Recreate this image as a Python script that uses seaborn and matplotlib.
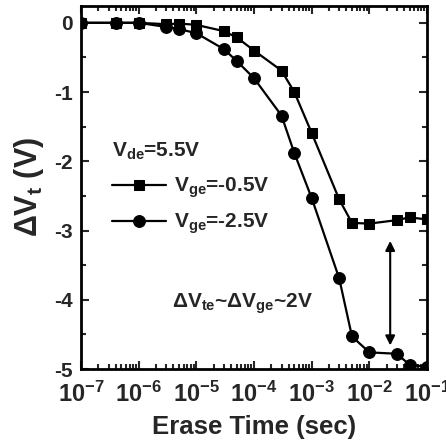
import numpy as np
import pandas as pd
import seaborn as sns
import matplotlib
matplotlib.use("Agg")
import matplotlib.pyplot as plt
from matplotlib.ticker import FixedLocator, FixedFormatter, LogLocator, MultipleLocator, NullFormatter

# ---- data ----
t_sq = [1e-7, 4e-7, 1e-6, 3e-6, 5e-6, 1e-5, 3e-5, 5e-5, 1e-4, 3e-4, 5e-4,
        1e-3, 3e-3, 5e-3, 1e-2, 3e-2, 5e-2, 1e-1]
dv_sq = [0.0, 0.0, 0.0, -0.02, -0.01, -0.03, -0.12, -0.21, -0.40, -0.69, -1.00,
         -1.59, -2.55, -2.89, -2.90, -2.85, -2.81, -2.84]
t_ci = [1e-7, 4e-7, 1e-6, 3e-6, 5e-6, 1e-5, 3e-5, 5e-5, 1e-4, 3e-4, 5e-4,
        1e-3, 3e-3, 5e-3, 1e-2, 3e-2, 5e-2, 1e-1]
dv_ci = [0.0, 0.0, 0.0, -0.06, -0.09, -0.15, -0.38, -0.55, -0.80, -1.34, -1.88,
         -2.53, -3.69, -4.53, -4.76, -4.78, -4.94, -4.97]
label_sq = r'$\mathregular{V_{ge}}$=-0.5V'
label_ci = r'$\mathregular{V_{ge}}$=-2.5V'
legend_title = r'$\mathregular{V_{de}}$=5.5V'
annot_text = r'$\Delta\mathregular{V_{te}}$~$\Delta\mathregular{V_{ge}}$~2V'
x_ticks = [1e-7, 1e-6, 1e-5, 1e-4, 1e-3, 1e-2, 1e-1]
x_ticklabels = [r'$\mathregular{10^{-7}}$', r'$\mathregular{10^{-6}}$', r'$\mathregular{10^{-5}}$',
                r'$\mathregular{10^{-4}}$', r'$\mathregular{10^{-3}}$', r'$\mathregular{10^{-2}}$',
                r'$\mathregular{10^{-1}}$']
y_ticks = [0, -1, -2, -3, -4, -5]
y_ticklabels = ['0', '-1', '-2', '-3', '-4', '-5']
arrow_x = 2.3e-2
arrow_y = [-3.15, -4.66]

df = pd.concat([
    pd.DataFrame({'t': t_sq, 'dv': dv_sq, 's': label_sq}),
    pd.DataFrame({'t': t_ci, 'dv': dv_ci, 's': label_ci}),
])

sns.set_theme(style='ticks')
plt.rcParams['font.family'] = ['Liberation Sans', 'DejaVu Sans']
plt.rcParams['font.weight'] = 'bold'
plt.rcParams['mathtext.fontset'] = 'custom'
plt.rcParams['mathtext.rm'] = 'Liberation Sans:bold'
plt.rcParams['mathtext.bf'] = 'Liberation Sans:bold'
plt.rcParams['mathtext.it'] = 'Liberation Sans:bold'
plt.rcParams['mathtext.sf'] = 'Liberation Sans:bold'
plt.rcParams['axes.unicode_minus'] = False

fig = plt.figure(figsize=(4.46, 4.46), dpi=100)
ax = fig.add_axes([81/446, 1-369/446, 346/446, 363.5/446])

sns.lineplot(data=df[df.s == label_sq], x='t', y='dv', ax=ax, color='black',
             marker='s', markersize=7.5, markeredgecolor='black', linewidth=1.6,
             label=label_sq, clip_on=True)
sns.lineplot(data=df[df.s == label_ci], x='t', y='dv', ax=ax, color='black',
             marker='o', markersize=8.5, markeredgecolor='black', linewidth=1.6,
             label=label_ci, clip_on=True)

ax.set_xscale('log')
ax.set_xlim(1e-7, 1e-1)
ax.set_ylim(-5, 0.25)

ax.xaxis.set_major_locator(FixedLocator(x_ticks))
ax.xaxis.set_major_formatter(FixedFormatter(x_ticklabels))
ax.xaxis.set_minor_locator(LogLocator(base=10, subs=np.arange(2, 10), numticks=20))
ax.xaxis.set_minor_formatter(NullFormatter())
ax.yaxis.set_major_locator(FixedLocator(y_ticks))
ax.yaxis.set_major_formatter(FixedFormatter(y_ticklabels))
ax.yaxis.set_minor_locator(MultipleLocator(0.5))

ax.tick_params(which='both', direction='in', top=True, right=True, width=1.5)
ax.tick_params(which='major', length=6)
ax.tick_params(which='minor', length=3.5)
ax.tick_params(axis='x', which='major', labelsize=17, pad=9)
ax.tick_params(axis='y', which='major', labelsize=15, pad=6)
for sp in ax.spines.values():
    sp.set_linewidth(2)
    sp.set_color('black')

ax.set_xlabel('Erase Time (sec)', fontsize=18.5, fontweight='bold', labelpad=6)
ax.set_ylabel(r'$\Delta\mathregular{V_t}$ (V)', fontsize=22, fontweight='bold', labelpad=6)

leg = ax.legend(title=legend_title, loc='upper left', bbox_to_anchor=(0.09, 0.628),
                frameon=False, prop={'size': 15, 'weight': 'bold'},
                title_fontproperties={'size': 15, 'weight': 'bold'}, handlelength=2.6,
                handletextpad=0.35, labelspacing=0.55, borderaxespad=0, borderpad=0)
leg._legend_box.align = 'left'
leg._legend_box.sep = 10

ax.annotate('', xy=(arrow_x, arrow_y[1]), xytext=(arrow_x, arrow_y[0]),
            arrowprops=dict(arrowstyle='<|-|>', color='black', lw=1.5,
                            mutation_scale=14, shrinkA=0, shrinkB=0))
ax.text(0.468, 0.18, annot_text, transform=ax.transAxes, ha='center', va='center',
        fontsize=15, fontweight='bold')

fig.savefig('out.png', dpi=100)
